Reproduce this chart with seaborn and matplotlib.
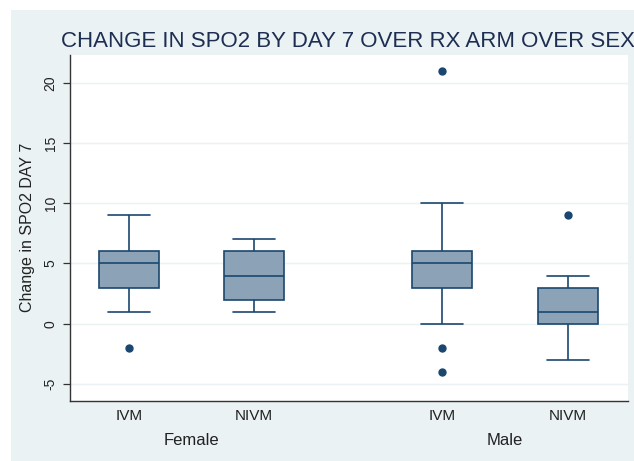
import numpy as np
import pandas as pd
import matplotlib
matplotlib.use("Agg")
import matplotlib.pyplot as plt
import matplotlib.transforms as mtransforms
from matplotlib.patches import Rectangle
import seaborn as sns

# ---- data ----
sexes = ["Female", "Male"]
arms = ["IVM", "NIVM"]
female_ivm = [-2, 1, 2, 3, 4, 4, 5, 5, 6, 6, 7, 8, 9]
female_nivm = [1, 2, 2, 3, 4, 5, 6, 6, 7]
male_ivm = [-4, -2, 0, 2, 3, 3, 4, 5, 5, 5, 6, 6, 6, 7, 8, 10, 21]
male_nivm = [-3, -1, 0, 0, 0, 1, 1, 2, 2, 3, 3, 4, 9]
y_ticks = [-5, 0, 5, 10, 15, 20]
title = "CHANGE IN SPO2 BY DAY 7 OVER RX ARM OVER SEX"
y_label = "Change in SPO2 DAY 7"

groups = {
    ("Female", "IVM"): female_ivm,
    ("Female", "NIVM"): female_nivm,
    ("Male", "IVM"): male_ivm,
    ("Male", "NIVM"): male_nivm,
}
rows = []
for (s, a), vals in groups.items():
    for v in vals:
        rows.append({"sex": s, "arm": a, "value": v})
df = pd.DataFrame(rows)

# ---- style ----
sns.set_style("white")
plt.rcParams["font.family"] = ["Liberation Sans", "DejaVu Sans"]

NAVY = "#1A476F"
FILL = "#8CA3B7"
BG = "#EAF2F3"

W, H = 634, 461
fig = plt.figure(figsize=(W / 100, H / 100), dpi=100)
fig.patch.set_facecolor("white")
bg = Rectangle((11 / W, 0), 1 - 11 / W, (H - 10) / H,
               transform=fig.transFigure, facecolor=BG,
               edgecolor="none", zorder=-10)
fig.patches.append(bg)

ax = fig.add_axes([70 / W, 1 - 400.7 / H, (627.7 - 70) / W, (400.7 - 55) / H])
ax.set_zorder(5)
ax.set_facecolor("white")

BOX_W = 0.8
GAP = 0.52
sns.boxplot(
    data=df, x="sex", y="value", hue="arm",
    order=sexes, hue_order=arms,
    palette={"IVM": FILL, "NIVM": FILL}, saturation=1,
    linecolor=NAVY, linewidth=1.2,
    width=BOX_W, gap=GAP, whis=1.5,
    flierprops=dict(marker="o", markerfacecolor=NAVY, markeredgecolor=NAVY,
                    markersize=5),
    legend=False, ax=ax,
)

# widen the whisker caps (Stata-style caps are ~70% of the box width)
box_width = BOX_W / 2 * (1 - GAP)
for ln in ax.lines:
    xd = np.asarray(ln.get_xdata(), dtype=float)
    yd = np.asarray(ln.get_ydata(), dtype=float)
    if len(xd) == 2 and yd[0] == yd[1] and (xd[1] - xd[0]) < 0.8 * box_width:
        c = xd.mean()
        half = 0.7 * box_width / 2
        ln.set_xdata([c - half, c + half])

ax.set_xlim(-0.3876, 1.391)
ax.set_ylim(-6.39, 22.3)

ax.set_yticks(y_ticks)
ax.set_yticklabels([str(t) for t in y_ticks], rotation=90, va="center",
                   fontsize=10, color="#222222")
ax.tick_params(axis="y", length=5, width=0.9, color="#333333", pad=4, left=True)
ax.yaxis.grid(True, color=BG, linewidth=1.0)
ax.set_axisbelow(True)

ax.set_xticks([-0.2, 0.2, 0.8, 1.2])
ax.set_xticklabels(["IVM", "NIVM", "IVM", "NIVM"], fontsize=11, color="#222222")
ax.tick_params(axis="x", length=0, pad=6)
ax.set_xlabel("")

ax.set_ylabel(y_label, fontsize=11.5, color="#222222")
ax.yaxis.set_label_coords(-0.062, 0.5)

for side in ["top", "right"]:
    ax.spines[side].set_visible(False)
for side in ["left", "bottom"]:
    ax.spines[side].set_color("#333333")
    ax.spines[side].set_linewidth(1.0)

trans = mtransforms.blended_transform_factory(ax.transData, fig.transFigure)
for i, s in enumerate(sexes):
    ax.text(i, 1 - 440 / H, s, transform=trans, ha="center", va="center",
            fontsize=12, color="#222222")

fig.text(61 / W, 1 - 46.7 / H, title, ha="left", va="baseline",
         fontsize=16, color="#1E2D52")

fig.savefig("out.png", dpi=100, facecolor=fig.get_facecolor())
